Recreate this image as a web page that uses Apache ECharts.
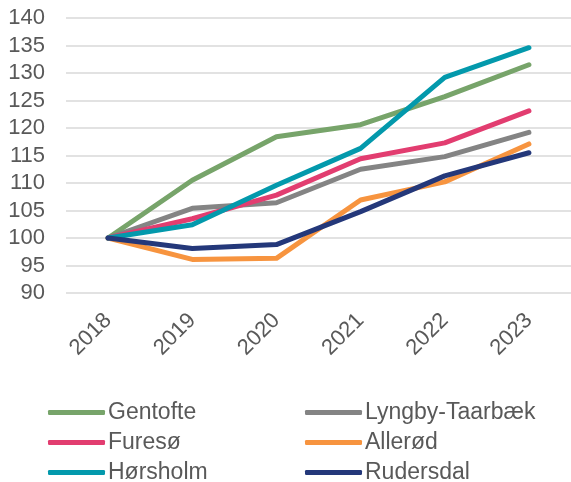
<!DOCTYPE html>
<html>
<head>
<meta charset="utf-8">
<script src="https://cdn.jsdelivr.net/npm/echarts@6/dist/echarts.min.js"></script>
<style>
  html, body { margin: 0; padding: 0; background: #fff; }
  #chart { width: 571px; height: 482px; }
</style>
</head>
<body>
<div id="chart"></div>
<script>
const years = ['2018', '2019', '2020', '2021', '2022', '2023'];

const gentofte = [100, 110.5, 118.4, 120.6, 125.7, 131.5];
const lyngby = [100, 105.4, 106.4, 112.5, 114.8, 119.2];
const fureso = [100, 103.5, 107.8, 114.4, 117.3, 123.1];
const allerod = [100, 96.1, 96.3, 106.9, 110.2, 117.1];
const horsholm = [100, 102.4, 109.6, 116.3, 129.2, 134.6];
const rudersdal = [100, 98.1, 98.8, 104.8, 111.3, 115.5];

const font = 'Liberation Sans, Arial, sans-serif';
const textColor = '#595959';

function lineSeries(name, data, color) {
  return {
    name,
    type: 'line',
    data,
    showSymbol: false,
    symbol: 'none',
    color,
    lineStyle: { width: 5, color, cap: 'round', join: 'round' },
    emphasis: { disabled: true }
  };
}

const legendBase = {
  orient: 'vertical',
  icon: 'roundRect',
  padding: 0,
  height: 100,
  itemWidth: 57,
  itemHeight: 5,
  itemGap: 7,
  textStyle: { fontFamily: font, fontSize: 23, color: textColor, lineHeight: 22, padding: [0, 0, 0, -2] }
};

const chart = echarts.init(document.getElementById('chart'));
chart.setOption({
  animation: false,
  grid: { left: 66, top: 18, width: 508, height: 275 },
  xAxis: {
    type: 'category',
    data: years,
    boundaryGap: true,
    axisLine: { show: false },
    axisTick: { show: false },
    axisLabel: { rotate: 45, margin: 24, fontFamily: font, fontSize: 22, color: textColor }
  },
  yAxis: {
    type: 'value',
    min: 90,
    max: 140,
    interval: 5,
    axisLine: { show: false },
    axisTick: { show: false },
    axisLabel: { margin: 21, fontFamily: font, fontSize: 22, color: textColor },
    splitLine: { lineStyle: { color: '#D9D9D9', width: 1.5 } }
  },
  legend: [
    Object.assign({}, legendBase, { left: 48, top: 401, data: ['Gentofte', 'Furesø', 'Hørsholm'] }),
    Object.assign({}, legendBase, { left: 305, top: 401, data: ['Lyngby-Taarbæk', 'Allerød', 'Rudersdal'] })
  ],
  series: [
    lineSeries('Gentofte', gentofte, '#77A46A'),
    lineSeries('Lyngby-Taarbæk', lyngby, '#848484'),
    lineSeries('Furesø', fureso, '#E23D70'),
    lineSeries('Allerød', allerod, '#F7943F'),
    lineSeries('Hørsholm', horsholm, '#0399AC'),
    lineSeries('Rudersdal', rudersdal, '#24387A')
  ]
});
</script>
</body>
</html>
